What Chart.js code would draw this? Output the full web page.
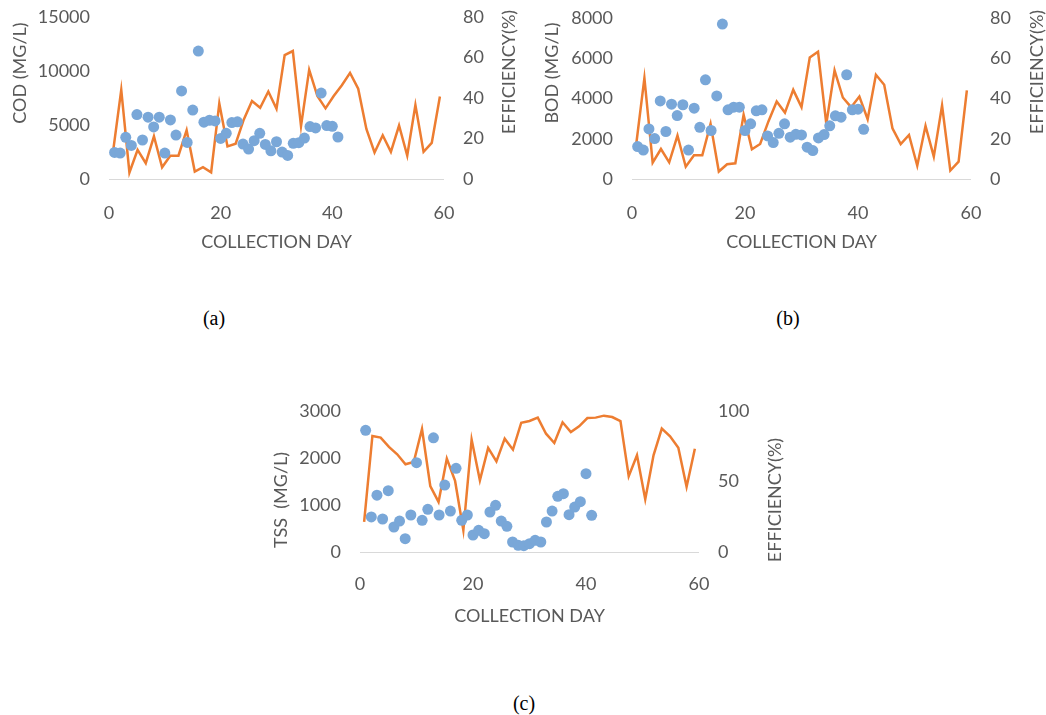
<!DOCTYPE html>
<html>
<head>
<meta charset="utf-8">
<script src="https://cdn.jsdelivr.net/npm/chart.js@4.4.0/dist/chart.umd.min.js"></script>
<style>
  body { margin: 0; background: #fff; width: 1046px; height: 715px; position: relative; overflow: hidden; }
  canvas { position: absolute; }
  .cap { position: absolute; font-family: "Liberation Serif", serif; font-size: 20px; color: #000; transform: translate(-50%, -50%); }
</style>
</head>
<body>
<canvas id="codChart" width="523" height="262" style="left:0px;top:0px"></canvas>
<canvas id="bodChart" width="516" height="262" style="left:530px;top:0px"></canvas>
<canvas id="tssChart" width="530" height="250" style="left:260px;top:390px"></canvas>
<div class="cap" style="left:214px;top:318px">(a)</div>
<div class="cap" style="left:788px;top:318px">(b)</div>
<div class="cap" style="left:524px;top:703px">(c)</div>
<script>
// collection days of the samples (41 samples)
const days = [1, 2, 3, 4, 5, 6, 7, 8, 9, 10, 11, 12, 13, 14, 15, 16, 17, 18, 19, 20,
    21, 22, 23, 24, 25, 26, 27, 28, 29, 30, 31, 32, 33, 34, 35, 36, 37, 38, 39, 40, 41];

// COD (mg/L) and removal efficiency (%)
const codValues = [2460, 2400, 3860, 3110, 5970, 3610, 5720, 4820, 5720, 2400, 5470, 4070, 8150, 3390,
    6380, 11850, 5260, 5440, 5380, 3760, 4230, 5230, 5290, 3230, 2770, 3550, 4230, 3200, 2610, 3450,
    2490, 2180, 3300, 3360, 3790, 4850, 4730, 7960, 4950, 4880, 3890];
const codEff = [13.6, 44.0, 3.2, 14.4, 7.8, 21.1, 5.8, 11.5, 11.5, 24.1, 3.7, 5.8, 3.3, 37.3, 16.1,
    17.4, 29.4, 38.5, 35.2, 43.2, 34.7, 61.2, 63.2, 26.1, 53.9, 41.0, 34.9, 41.0, 46.3, 52.4, 44.6,
    24.7, 13.1, 21.6, 13.4, 26.4, 11.6, 36.5, 13.4, 17.8, 40.7];

// BOD (mg/L) and removal efficiency (%)
const bodValues = [1610, 1440, 2490, 2010, 3880, 2360, 3720, 3150, 3690, 1440, 3520, 2570, 4930, 2410,
    4130, 7700, 3440, 3570, 3570, 2410, 2740, 3390, 3440, 2140, 1810, 2270, 2740, 2080, 2220, 2190,
    1580, 1410, 2040, 2210, 2640, 3140, 3070, 5180, 3440, 3470, 2470];
const bodEff = [16.9, 50.1, 8.1, 14.9, 8.3, 21.6, 6.1, 11.8, 11.8, 27.4, 3.7, 7.3, 7.8, 31.9, 14.8,
    17.4, 28.6, 38.5, 33.0, 44.3, 35.7, 60.4, 63.2, 27.4, 54.0, 40.5, 35.7, 41.0, 29.7, 51.8, 46.8,
    25.2, 17.4, 21.9, 6.6, 26.4, 11.1, 36.5, 4.2, 8.6, 44.0];

// TSS (mg/L) and removal efficiency (%)
const tssValues = [2590, 745, 1210, 702, 1305, 532, 659, 284, 787, 1900, 674, 908, 2430, 787, 1425,
    872, 1780, 674, 787, 362, 461, 390, 851, 993, 659, 546, 213, 142, 135, 177, 248, 213, 638, 872,
    1184, 1241, 794, 957, 1071, 1666, 780];
const tssEff = [21.3, 82.3, 81.1, 74.5, 69.3, 62.2, 63.8, 87.2, 46.8, 35.5, 66.2, 50.4, 15.4, 79.7,
    50.8, 73.8, 64.3, 80.4, 72.6, 91.7, 92.9, 95.3, 83.9, 77.3, 92.0, 85.1, 89.1, 95.0, 95.3, 96.7,
    95.7, 92.9, 53.7, 68.6, 37.4, 68.6, 87.5, 82.0, 74.0, 46.3, 73.3];

const TEXT = "#595959";
const DOT = "#79A7D8";
const ORANGE = "#ED7D31";
Chart.defaults.font.family = "Lato";
Chart.defaults.font.size = 18;
Chart.defaults.color = TEXT;

// rotated axis titles (both read bottom-to-top like the original)
const axisTitles = {
    id: "axisTitles",
    afterDraw(chart, args, opts) {
        const ctx = chart.ctx;
        ctx.save();
        ctx.fillStyle = TEXT;
        ctx.font = "18px Lato";
        ctx.textAlign = "center";
        ctx.textBaseline = "middle";
        opts.items.forEach(function(t) {
            ctx.save();
            ctx.translate(t.x, t.y);
            ctx.rotate(-Math.PI / 2);
            ctx.fillText(t.text, 0, 0);
            ctx.restore();
        });
        ctx.restore();
    }
};

// fixed axis width, and no extra top/bottom padding from the tick labels
function fixWidth(w) {
    return function(s) {
        s.width = w;
        s.paddingTop = 0;
        s.paddingBottom = 0;
    };
}

function buildChart(id, cfg) {
    return new Chart(document.getElementById(id), {
        type: "scatter",
        data: {
            datasets: [{
                type: "scatter",
                data: days.map((d, i) => ({ x: d, y: cfg.values[i] })),
                backgroundColor: DOT,
                borderWidth: 0,
                pointRadius: 5.5,
                pointHoverRadius: 5.5,
                xAxisID: "x",
                yAxisID: "y"
            }, {
                type: "line",
                data: cfg.eff,
                borderColor: ORANGE,
                borderWidth: 2.5,
                pointRadius: 0,
                tension: 0,
                fill: false,
                xAxisID: "xCat",
                yAxisID: "y1"
            }]
        },
        plugins: [axisTitles],
        options: {
            responsive: false,
            animation: false,
            layout: { padding: { top: cfg.top, left: 0, right: 0, bottom: 0 } },
            scales: {
                x: {
                    type: "linear",
                    min: 0,
                    max: 60,
                    grid: { display: false },
                    border: { display: false },
                    ticks: { stepSize: 20, padding: cfg.xPad, color: TEXT },
                    title: {
                        display: true,
                        text: "COLLECTION DAY",
                        color: TEXT,
                        padding: { top: 0, bottom: cfg.titlePad }
                    },
                    afterFit: s => { s.height = cfg.xHeight; }
                },
                xCat: {
                    type: "category",
                    labels: days,
                    offset: true,
                    display: false
                },
                y: {
                    position: "left",
                    min: 0,
                    max: cfg.yMax,
                    grid: {
                        drawTicks: false,
                        color: ctx => ctx.tick && ctx.tick.value === 0 ? "#D9D9D9" : "rgba(0,0,0,0)"
                    },
                    border: { display: false },
                    ticks: { stepSize: cfg.yStep, padding: 19, color: TEXT, callback: v => String(v) },
                    afterFit: fixWidth(cfg.leftW)
                },
                y1: {
                    position: "right",
                    min: 0,
                    max: cfg.effMax,
                    grid: { display: false, drawTicks: false },
                    border: { display: false },
                    ticks: { stepSize: cfg.effStep, padding: 19, color: TEXT, callback: v => String(v) },
                    afterFit: fixWidth(cfg.rightW)
                }
            },
            plugins: {
                legend: { display: false },
                tooltip: { enabled: false },
                axisTitles: { items: cfg.titles }
            }
        }
    });
}

// (a) COD
buildChart("codChart", {
    values: codValues, eff: codEff,
    yMax: 15000, yStep: 5000, effMax: 80, effStep: 20,
    top: 17, leftW: 109, rightW: 79, xHeight: 83, xPad: 15, titlePad: 9,
    titles: [
        { text: "COD (MG/L)", x: 20, y: 73 },
        { text: "EFFICIENCY(%)", x: 509, y: 72 }
    ]
});

// (b) BOD
buildChart("bodChart", {
    values: bodValues, eff: bodEff,
    yMax: 8000, yStep: 2000, effMax: 80, effStep: 20,
    top: 18, leftW: 102, rightW: 75, xHeight: 83, xPad: 15, titlePad: 9,
    titles: [
        { text: "BOD (MG/L)", x: 22, y: 73 },
        { text: "EFFICIENCY(%)", x: 507, y: 72 }
    ]
});

// (c) TSS
buildChart("tssChart", {
    values: tssValues, eff: tssEff,
    yMax: 3000, yStep: 1000, effMax: 100, effStep: 50,
    top: 21, leftW: 100, rightW: 91, xHeight: 88, xPad: 13, titlePad: 13,
    titles: [
        { text: "TSS  (MG/L)", x: 21, y: 110 },
        { text: "EFFICIENCY(%)", x: 515, y: 110 }
    ]
});
</script>
</body>
</html>
